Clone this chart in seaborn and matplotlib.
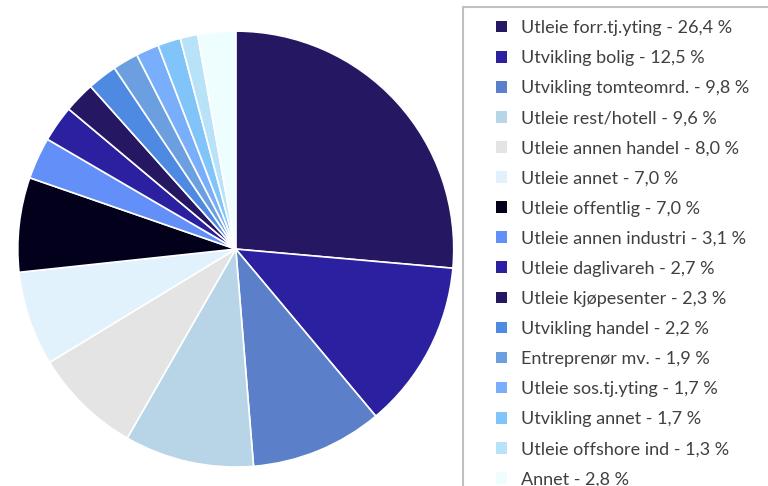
import matplotlib
matplotlib.use("Agg")
import matplotlib.pyplot as plt
from matplotlib.patches import Rectangle
import seaborn as sns

categories = ["Utleie forr.tj.yting", "Utvikling bolig", "Utvikling tomteomrd.",
              "Utleie rest/hotell", "Utleie annen handel", "Utleie annet",
              "Utleie offentlig", "Utleie annen industri", "Utleie daglivareh",
              "Utleie kjøpesenter", "Utvikling handel", "Entreprenør mv.",
              "Utleie sos.tj.yting", "Utvikling annet", "Utleie offshore ind", "Annet"]
values = [26.4, 12.5, 9.8, 9.6, 8.0, 7.0, 7.0, 3.1, 2.7, 2.3, 2.2, 1.9, 1.7, 1.7, 1.3, 2.8]
colors = ["#251762", "#2a20a0", "#5b7fc9", "#b8d5e8", "#e4e4e4", "#e2f2fc",
          "#03001c", "#6390f8", "#2a20a0", "#251762", "#4f8ae2", "#6b9fe0",
          "#78aefa", "#80c4fa", "#b8e2f8", "#eefeff"]

sns.set_theme(style="white")
plt.rcParams['font.family'] = ['Lato', 'DejaVu Sans']

fig = plt.figure(figsize=(7.68, 4.86), dpi=100)
ax = fig.add_axes([0.023, 0.039, 0.568, 0.897])
wedges, _ = ax.pie(values, colors=sns.color_palette(colors, len(colors)),
                   startangle=90, counterclock=False,
                   wedgeprops=dict(edgecolor="white", linewidth=1.2))
ax.set_xlim(-1.0, 1.0)
ax.set_ylim(-1.0, 1.0)
ax.set_aspect("equal")

labels = [f"{c} - {str(v).replace('.', ',')} %" for c, v in zip(categories, values)]

fig.patches.append(Rectangle((463 / 768, -0.05), 0.5, 1 - 7 / 486 + 0.05,
                             transform=fig.transFigure, fill=False,
                             edgecolor="#c0c0c0", linewidth=1.5))

leg = fig.legend(wedges, labels, loc="upper left",
                 bbox_to_anchor=(496 / 768, 1 - 20 / 486),
                 frameon=False, fontsize=13, labelspacing=0.78,
                 handlelength=0.62, handleheight=0.62, handletextpad=0.75,
                 borderaxespad=0, borderpad=0, labelcolor="#404040")
for h in leg.legend_handles:
    h.set_edgecolor("none")

fig.savefig("out.png", dpi=100)
